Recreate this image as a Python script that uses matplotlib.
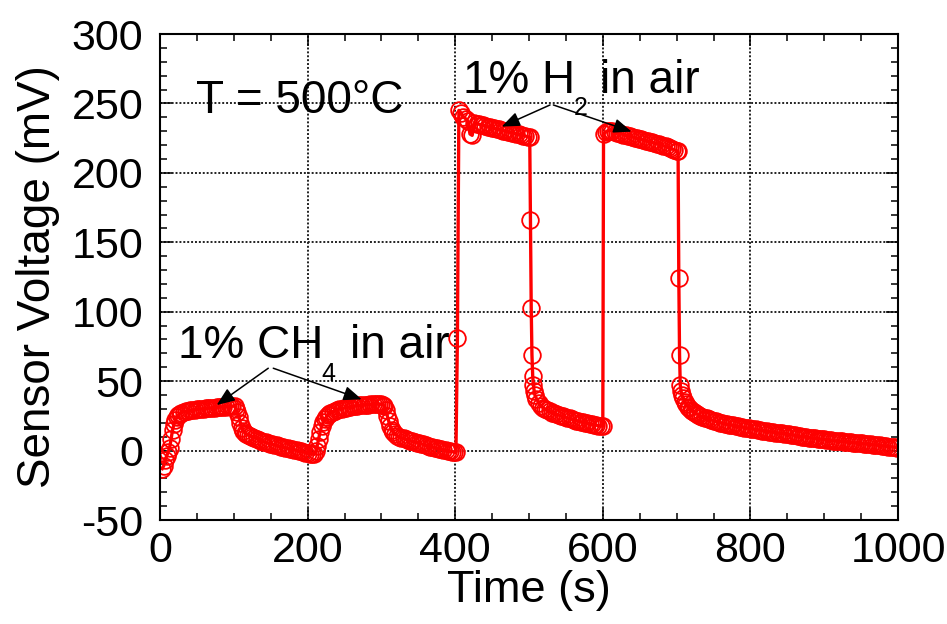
import numpy as np
import matplotlib
matplotlib.use("Agg")
import matplotlib.pyplot as plt
from matplotlib.ticker import MultipleLocator

plt.rcParams["font.family"] = ["Liberation Sans", "DejaVu Sans"]
plt.rcParams["axes.unicode_minus"] = False

# sensor log, split into runs; (start time s, step s, voltages mV)
ch4_rise_1 = (3, 2, [-13, -11, -7, -4, -1, 2, 8, 15, 19, 22, 24, 25.5, 26.5, 27.3])
ch4_hold_1 = (32, 3, [28.0, 28.4, 28.7, 29.0, 29.2, 29.4, 29.6, 29.8, 30.0, 30.2,
                      30.3, 30.5, 30.7, 30.8, 31.0, 31.2, 31.3, 31.5, 31.6, 31.7,
                      31.8, 31.9, 32.0, 32.0])
ch4_fall_1 = (103, 2, [30, 27.5, 24, 20, 16.5, 14.2, 13, 12, 11.3])
ch4_tail_1 = (122, 3, [10.5, 9.8, 9.2, 8.6, 7.8, 7.1, 6.5, 5.9, 5.4, 5.0,
                       4.6, 4.2, 3.8, 3.2, 2.8, 2.4, 2.0, 1.6, 1.2, 0.9,
                       0.5, 0.2, -0.2, -0.6, -1.0, -1.4, -1.8, -2.2, -2.6])
ch4_rise_2 = (209, 2, [-2.7, -0.5, 3.5, 8.5, 13.5, 17.5, 20.3, 22.5, 24, 25.4, 26.4, 27.2])
ch4_hold_2 = (234, 3, [28.0, 28.7, 29.3, 29.8, 30.2, 30.6, 31.0, 31.3, 31.6, 31.9,
                       32.1, 32.3, 32.5, 32.7, 32.8, 33.0, 33.1, 33.2, 33.3, 33.4,
                       33.5, 33.5, 33.6])
ch4_fall_2 = (302, 2, [33, 32, 29, 25, 21, 17.5, 14.8, 13.2, 12.1])
ch4_tail_2 = (321, 3, [10.8, 10.1, 9.4, 8.8, 8.1, 7.5, 7.0, 6.6, 6.2, 5.8,
                       5.4, 4.9, 4.4, 3.9, 3.4, 2.9, 2.5, 2.1, 1.7, 1.3,
                       0.9, 0.5, 0.2, -0.2, -0.5, -0.8, -1.1])

h2_on_1_t = [401, 403]
h2_on_1_v = [-1.3, 81]
h2_hold_1 = (405, 3, [245, 243, 240.5, 239, 237.5, 228, 227, 236, 235.5, 235,
                      234.6, 234.2, 233.8, 233.3, 232.9, 232.5, 232.1, 231.7, 231.3, 230.9,
                      230.5, 230.1, 229.7, 229.3, 228.9, 228.5, 228.1, 227.7, 227.3, 226.9,
                      226.5, 226.1, 225.6])
h2_off_1_t = [502, 503, 504, 505, 506, 507, 508]
h2_off_1_v = [166, 103, 69, 54, 47, 43, 40]
h2_tail_1 = (510, 3, [37.5, 34.5, 32.3, 30.8, 29.8, 29.0, 28.2, 27.4, 26.8, 26.2,
                      25.6, 25.1, 24.6, 24.1, 23.6, 23.1, 22.6, 22.1, 21.6, 21.2,
                      20.8, 20.4, 20.0, 19.6, 19.3, 18.9, 18.6, 18.3, 18.0, 17.7,
                      17.4])
h2_on_2_t = [601]
h2_on_2_v = [228]
h2_hold_2 = (604, 3, [229.5, 230.3, 230.5, 230.2, 229.6, 229.0, 228.5, 228.1, 227.6, 227.1,
                      226.7, 226.3, 225.9, 225.4, 224.9, 224.5, 224.2, 223.8, 223.3, 222.9,
                      222.5, 222.0, 221.5, 221.1, 220.7, 220.2, 219.6, 219.0, 218.4, 217.8,
                      217.2, 216.6, 216.0])
h2_off_2_t = [702, 703, 704, 705, 706, 707]
h2_off_2_v = [215.5, 124, 69, 47, 43, 40]
h2_fall_2 = (709, 2, [38, 35.2, 33.2, 31.7, 30.5, 29.5, 28.6, 27.8, 27.0, 26.4, 25.8])
h2_tail_2 = (732, 3, [25.0, 24.3, 23.7, 23.2, 22.7, 22.1, 21.5, 21.0, 20.6, 20.1,
                      19.7, 19.3, 19.0, 18.7, 18.4, 18.1, 17.8, 17.5, 17.2, 16.9,
                      16.6, 16.3, 16.0, 15.7, 15.5, 15.2, 15.0, 14.7, 14.4, 14.1,
                      13.9, 13.6, 13.4, 13.2, 13.0, 12.7, 12.5, 12.3, 12.1, 11.9,
                      11.6, 11.4, 11.2, 10.9, 10.6, 10.3, 10.0, 9.8, 9.6, 9.4,
                      9.1, 8.9, 8.7, 8.5, 8.3, 8.2, 8.0, 7.8, 7.6, 7.4,
                      7.2, 7.0, 6.9, 6.7, 6.6, 6.4, 6.2, 6.0, 5.9, 5.7,
                      5.6, 5.4, 5.3, 5.1, 4.9, 4.8, 4.6, 4.4, 4.2, 4.1,
                      3.9, 3.7, 3.5, 3.3, 3.1, 2.9, 2.8, 2.6, 2.4, 2.2])


def run(seg):
    t0, dt, v = seg
    return t0 + dt * np.arange(len(v)), np.asarray(v, float)


pieces = [run(ch4_rise_1), run(ch4_hold_1), run(ch4_fall_1), run(ch4_tail_1),
          run(ch4_rise_2), run(ch4_hold_2), run(ch4_fall_2), run(ch4_tail_2),
          (np.array(h2_on_1_t), np.array(h2_on_1_v)), run(h2_hold_1),
          (np.array(h2_off_1_t), np.array(h2_off_1_v)), run(h2_tail_1),
          (np.array(h2_on_2_t), np.array(h2_on_2_v)), run(h2_hold_2),
          (np.array(h2_off_2_t), np.array(h2_off_2_v)), run(h2_fall_2), run(h2_tail_2)]
time = np.concatenate([p[0] for p in pieces])
volt = np.concatenate([p[1] for p in pieces])

fig = plt.figure(figsize=(9.47, 6.24), dpi=100)
ax = fig.add_axes([160 / 947, 104 / 624, 738 / 947, 486 / 624])

ax.plot(time, volt, "-o", color="red", lw=2.4, ms=12, mfc="none", mec="red", mew=1.3)

ax.set_xlim(0, 1000)
ax.set_ylim(-50, 300)
ax.xaxis.set_major_locator(MultipleLocator(200))
ax.xaxis.set_minor_locator(MultipleLocator(50))
ax.yaxis.set_major_locator(MultipleLocator(50))
ax.yaxis.set_minor_locator(MultipleLocator(10))
ax.tick_params(which="both", direction="in", top=True, right=True, width=1.1)
ax.tick_params(which="major", length=8.5, labelsize=31)
ax.tick_params(which="minor", length=5)
ax.tick_params(axis="x", pad=8)
ax.tick_params(axis="y", pad=12)
for s in ax.spines.values():
    s.set_linewidth(1.5)
ax.grid(True, which="major", color="#222222", lw=1.4, ls=(0, (1, 1)))
ax.set_axisbelow(True)

ax.set_xlabel("Time (s)", fontsize=32.5, labelpad=-1)
ax.set_ylabel("Sensor Voltage (mV)", fontsize=33, labelpad=8)

ax.text(48.8, 243.1, "T = 500°C", fontsize=33, va="baseline")

# gas labels, subscripts placed by hand
ax.text(411.2, 257.3, "1% H", fontsize=33, va="baseline")
ax.text(561, 241.7, "2", fontsize=18, va="baseline")
ax.text(596.2, 257.3, "in air", fontsize=33, va="baseline")

ax.text(24.4, 66.5, "1% CH", fontsize=33, va="baseline")
ax.text(218, 50.4, "4", fontsize=18, va="baseline")
ax.text(257.5, 66.5, "in air", fontsize=33, va="baseline")

arrow = dict(arrowstyle="-|>,head_length=0.55,head_width=0.22", color="black", lw=1.1,
             mutation_scale=20, shrinkA=0, shrinkB=0)
ax.annotate("", xy=(76.8, 32.8), xytext=(146.7, 59.3), arrowprops=arrow)
ax.annotate("", xy=(273.3, 36.9), xytext=(153.5, 59.3), arrowprops=arrow)
ax.annotate("", xy=(463, 233.3), xytext=(528.5, 248.9), arrowprops=arrow)
ax.annotate("", xy=(639, 229.7), xytext=(533, 248.9), arrowprops=arrow)

fig.savefig("out.png", dpi=100)
